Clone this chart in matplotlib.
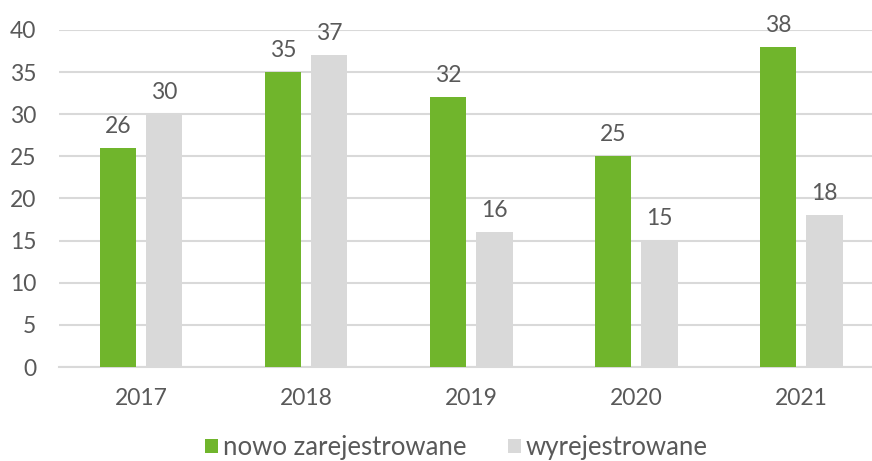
import matplotlib.pyplot as plt
import numpy as np

years = ["2017", "2018", "2019", "2020", "2021"]
nowo = [26, 35, 32, 25, 38]
wyrej = [30, 37, 16, 15, 18]

GREEN = "#70B52C"
GREY = "#D9D9D9"
TEXT = "#595959"

plt.rcParams['font.family'] = ['Lato', 'DejaVu Sans']

fig = plt.figure(figsize=(8.72, 4.61), dpi=100)
# plot area runs a little past the right edge, as in the source
ax = fig.add_axes([58.5 / 872, 94 / 461, 825.5 / 872, 337 / 461])

x = np.arange(len(years))
w = 0.22
off = 0.14
b1 = ax.bar(x - off, nowo, w, color=GREEN, label="nowo zarejestrowane", zorder=3)
b2 = ax.bar(x + off, wyrej, w, color=GREY, label="wyrejestrowane", zorder=3)

for bars in (b1, b2):
    for b in bars:
        ax.annotate(f"{int(b.get_height())}",
                    (b.get_x() + b.get_width() / 2, b.get_height()),
                    xytext=(0, 11), textcoords="offset points",
                    ha="center", va="baseline", fontsize=16.5, color=TEXT)

ax.set_xlim(-0.5, len(years) - 0.5)
ax.set_ylim(0, 40)
ax.set_yticks(range(0, 41, 5))
ax.set_xticks(x)
ax.set_xticklabels(years)
ax.tick_params(axis="both", length=0, labelsize=16.5, labelcolor=TEXT)
ax.tick_params(axis="y", pad=16)
ax.tick_params(axis="x", pad=15)

ax.yaxis.grid(True, color=GREY, linewidth=1.5, zorder=0)
ax.set_axisbelow(True)
for s in ["top", "right", "left"]:
    ax.spines[s].set_visible(False)
ax.spines["bottom"].set_color(GREY)
ax.spines["bottom"].set_linewidth(1.5)

fig.legend(loc="lower center", bbox_to_anchor=(456.5 / 872, 1 / 461), ncol=2,
           frameon=False, fontsize=18.5, labelcolor=TEXT,
           handlelength=0.5, handleheight=0.5, handletextpad=0.2,
           columnspacing=1.6, borderpad=0, borderaxespad=0)

fig.savefig("out.png", dpi=100)
